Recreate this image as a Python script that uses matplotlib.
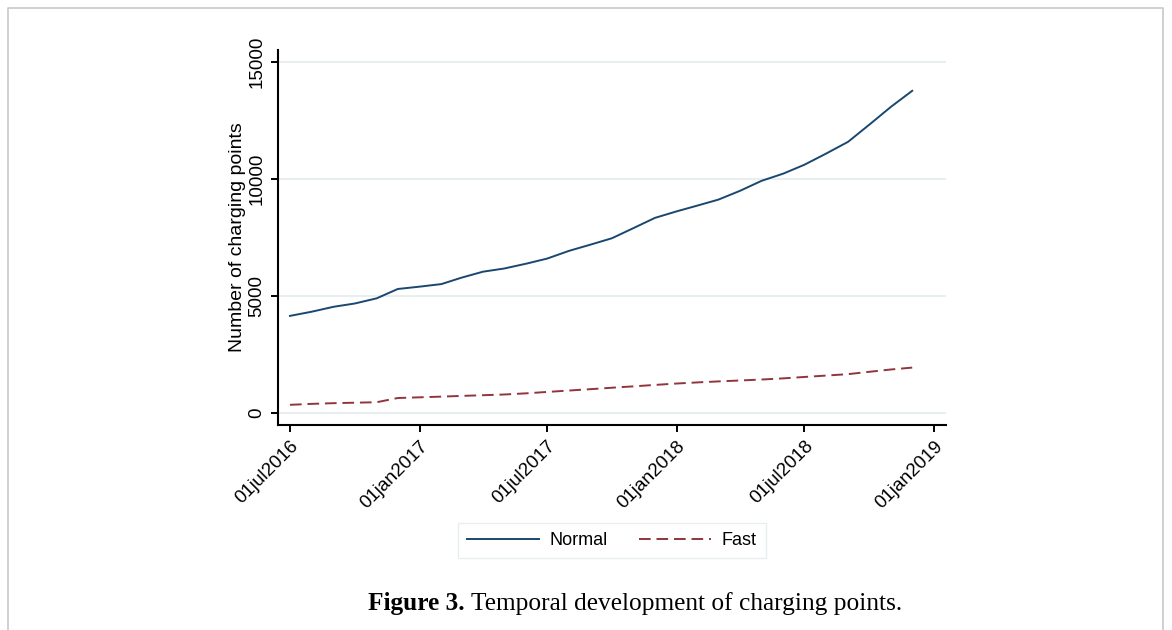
import numpy as np
import pandas as pd
import matplotlib
matplotlib.use("Agg")
from matplotlib import pyplot as plt
from matplotlib.lines import Line2D
from matplotlib.offsetbox import TextArea, HPacker, AnchoredOffsetbox

# monthly counts, jul2016 - dec2018
months = pd.date_range("2016-07-01", "2018-12-01", freq="MS")
normal = [4150, 4330, 4540, 4680, 4900, 5300, 5400, 5510, 5780, 6040,
          6175, 6380, 6600, 6930, 7200, 7470, 7910, 8340, 8620, 8880,
          9120, 9500, 9920, 10230, 10610, 11090, 11590, 12320, 13090, 13770]
fast = [350, 390, 420, 440, 460, 640, 670, 700, 730, 760,
        790, 840, 900, 960, 1020, 1080, 1140, 1200, 1260, 1310,
        1350, 1390, 1430, 1480, 1540, 1600, 1660, 1760, 1860, 1940]

tick_dates = pd.to_datetime(["2016-07-01", "2017-01-01", "2017-07-01",
                             "2018-01-01", "2018-07-01", "2019-01-01"])
tick_labels = ["01jul2016", "01jan2017", "01jul2017",
               "01jan2018", "01jul2018", "01jan2019"]
y_ticks = [0, 5000, 10000, 15000]

plt.rcParams['font.family'] = ['Liberation Sans', 'DejaVu Sans']

fig = plt.figure(figsize=(11.72, 6.30), dpi=100)
ax = fig.add_axes([0.2372, 0.3254, 0.5700, 0.5952])

ax.plot(months, normal, color='#1a476f', lw=1.4, label='Normal')
ax.plot(months, fast, color='#90353b', lw=1.4, ls=(0, (6, 3)), label='Fast')

ax.set_xlim(pd.Timestamp("2016-06-14"), pd.Timestamp("2019-01-18"))
ax.set_ylim(-513, 15513)
ax.set_xticks(tick_dates)
ax.set_xticklabels(tick_labels, rotation=45, ha='right', va='top',
                   rotation_mode='anchor', fontsize=13.5)
ax.set_yticks(y_ticks)
ax.set_yticklabels([str(v) for v in y_ticks], rotation=90, va='center', fontsize=13.5)
ax.tick_params(axis='both', direction='out', length=5, width=1.4, pad=4)
ax.set_ylabel("Number of charging points", fontsize=14, labelpad=2)

ax.yaxis.grid(True, color='#e6eef0', lw=1.3)
ax.set_axisbelow(True)
for s in ['top', 'right']:
    ax.spines[s].set_visible(False)
for s in ['left', 'bottom']:
    ax.spines[s].set_linewidth(1.5)

leg = fig.legend(loc='center', bbox_to_anchor=(0.522, 0.142), ncol=2,
                 fontsize=13, handlelength=4, handletextpad=0.6,
                 columnspacing=1.7, fancybox=False, borderpad=0.5)
leg.get_frame().set_edgecolor('#e3eaec')
leg.get_frame().set_linewidth(1.0)

# caption with bold figure number
cap = HPacker(children=[
    TextArea("Figure 3.", textprops=dict(family='Liberation Serif', weight='bold', size=18.3)),
    TextArea("Temporal development of charging points.",
             textprops=dict(family='Liberation Serif', size=18.3)),
], sep=5, align='baseline')
box = AnchoredOffsetbox(loc='center', child=cap, frameon=False,
                        bbox_to_anchor=(0.542, 0.042), bbox_transform=fig.transFigure,
                        pad=0, borderpad=0)
fig.add_artist(box)

# light page frame
fx0, fx1, fy1 = 8 / 1172, 1163 / 1172, 1 - 8 / 630
fig.add_artist(Line2D([fx0, fx0, fx1, fx1], [0, fy1, fy1, 0],
                      transform=fig.transFigure, color='#c8c8c8', lw=1.2))

fig.savefig("out.png", dpi=100)
